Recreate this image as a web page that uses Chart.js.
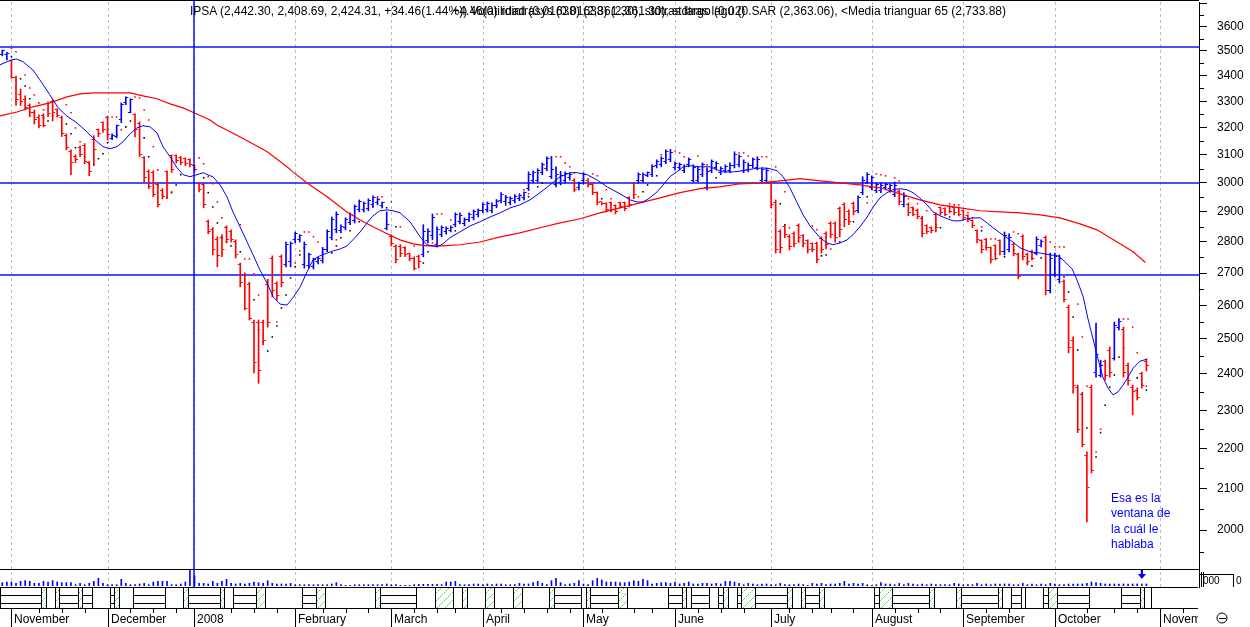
<!DOCTYPE html>
<html>
<head>
<meta charset="utf-8">
<script src="https://cdn.jsdelivr.net/npm/chart.js@4.4.1/dist/chart.umd.min.js"></script>
<style>
html,body{margin:0;padding:0;background:#fff;overflow:hidden}
#wrap{position:relative;width:1250px;height:627px;background:#fff}
#c{position:absolute;left:0;top:0}
.t{position:absolute;top:4px;font:12px "Liberation Sans",Arial,sans-serif;line-height:14px;color:#000;white-space:nowrap}
#note{position:absolute;left:1111px;top:491px;font:12px "Liberation Sans",Arial,sans-serif;line-height:15.3px;color:#0000ff;white-space:nowrap}
</style>
</head>
<body>
<div id="wrap">
<canvas id="c" width="1250" height="627"></canvas>
<div class="t" style="left:190px">IPSA (2,442.30, 2,408.69, 2,424.31, +34.46(1.44%)) Volatilidad (0.01638) (2,361.30), stdtras largo (0.02)</div>
<div class="t" style="right:244px">+4.46(0) rdintrasys (0.01638) (2,361.30), stdtras lagu (0.SAR (2,363.06), &lt;Media trianguar 65 (2,733.88)</div>
<div id="note">Esa es la<br>ventana de<br>la cuál le<br>hablaba</div>
</div>
<script>
const BLUE = '#0000ff', RED = '#ff0000';

// ---- axis / calendar data ----
const monthStartSlots = [2,23,42,64,85,105,127,147,168,190,210,230,253];
const monthLabels = ['November','December','2008','February','March','April','May','June','July','August','September','October','November'];
const weekTickSlots = [8,13,18,28,33,38,50,55,60,70,75,80,90,95,99,109,114,119,124,131,138,142,152,157,162,172,177,181,186,195,200,205,215,220,237,243,248,258];
const yTickValues = [2000,2100,2200,2300,2400,2500,2600,2700,2800,2900,3000,3100,3200,3300,3400,3500,3600];
const yMinorTickValues = [1950,2050,2150,2250,2350,2450,2550,2650,2750,2850,2950,3050,3150,3250,3350,3450,3550,3650];
const yTopTick = 3700;
const hLineValues = [3517, 3000, 2693];
const cursorSlot = 42;
const arrowSlot = 249;

// ---- IPSA daily bars ----
const openP = [3484,3484,3460,3395,3325,3306,3283,3259,3237,3244,
3290,3298,3267,3237,3170,3111,3093,3126,3133,3071,
3155,3192,3218,3237,3159,3166,3229,3294,3259,3248,
3214,3089,3039,3036,2993,2973,3039,3096,3096,3089,
3086,3082,3061,2997,2993,2867,2840,2807,2814,2847,
2833,2800,2726,2691,2663,2550,2550,2550,2663,2748,
2666,2752,2726,2736,2807,2807,2726,2723,2720,2736,
2739,2774,2814,2840,2837,2847,2863,2870,2907,2907,
2910,2924,2931,2921,2843,2817,2784,2784,2781,2761,
2748,2752,2758,2804,2820,2791,2824,2833,2837,2857,
2867,2860,2873,2880,2890,2904,2907,2904,2921,2938,
2934,2931,2938,2945,2948,2980,3007,3010,3036,3050,
3022,2993,3000,3007,3018,3010,2983,3007,3010,2993,
2966,2934,2928,2931,2921,2931,2931,2948,2997,3007,
3010,3025,3029,3061,3064,3075,3082,3053,3053,3043,
3064,3010,3010,3029,2983,3043,3053,3036,3043,3043,
3061,3064,3043,3046,3061,3053,3007,3007,2997,2931,
2833,2850,2817,2827,2853,2820,2804,2794,2794,2810,
2827,2860,2860,2910,2924,2900,2928,2904,2966,3003,
2983,2973,2973,2983,2980,2959,2969,2924,2924,2914,
2904,2877,2853,2847,2890,2914,2910,2917,2914,2914,
2904,2887,2870,2837,2804,2807,2781,2787,2804,2768,
2777,2791,2758,2817,2758,2768,2764,2787,2814,2647,
2695,2679,2673,2595,2497,2361,2342,2183,2361,2405,
2397,2434,2468,2445,2533,2527,2425,2363,2355,2400,
2435];
const highP = [3504,3494,3462,3399,3348,3321,3290,3267,3248,3252,
3298,3306,3271,3244,3177,3118,3100,3133,3141,3076,
3170,3195,3222,3244,3177,3210,3294,3317,3310,3252,
3222,3094,3046,3043,3000,2980,3043,3100,3100,3094,
3089,3086,3064,3000,3000,2873,2847,2817,2824,2853,
2840,2807,2732,2701,2669,2556,2556,2556,2679,2755,
2673,2758,2800,2800,2833,2824,2800,2764,2748,2752,
2781,2840,2883,2900,2857,2880,2897,2924,2941,2934,
2945,2955,2948,2934,2900,2824,2791,2791,2784,2764,
2752,2758,2857,2843,2893,2850,2853,2850,2853,2897,
2897,2880,2897,2907,2910,2931,2934,2931,2941,2966,
2955,2952,2959,2959,2969,3039,3043,3050,3071,3093,
3093,3057,3036,3039,3036,3015,3003,3036,3015,3000,
2969,2934,2931,2934,2924,2934,2934,2952,3000,3036,
3036,3039,3064,3082,3093,3118,3118,3075,3071,3064,
3089,3064,3057,3071,3053,3082,3075,3057,3064,3071,
3111,3100,3082,3071,3089,3093,3053,3053,3000,2941,
2840,2857,2824,2833,2860,2824,2807,2797,2800,2817,
2833,2867,2867,2917,2931,2907,2934,2955,3022,3036,
3025,3000,3000,3000,2997,3003,2976,2966,2931,2917,
2910,2883,2857,2850,2897,2917,2914,2921,2917,2917,
2907,2890,2873,2840,2807,2810,2784,2791,2807,2833,
2827,2797,2764,2824,2764,2774,2817,2807,2820,2764,
2764,2758,2679,2601,2506,2369,2347,2191,2369,2547,
2439,2439,2477,2550,2559,2535,2431,2369,2361,2405,
2442.30];
const lowP = [3480,3464,3390,3284,3284,3267,3241,3214,3199,3203,
3241,3225,3240,3167,3118,3029,3072,3093,3068,3025,
3064,3167,3182,3155,3155,3162,3219,3287,3256,3166,
3094,3004,2980,2952,2917,2945,2948,3037,3071,3064,
3061,3057,3039,2969,2914,2827,2758,2720,2752,2797,
2800,2748,2657,2586,2556,2403,2374,2483,2535,2626,
2617,2657,2720,2720,2797,2800,2716,2716,2713,2729,
2732,2768,2807,2830,2830,2840,2857,2863,2900,2900,
2904,2917,2924,2914,2840,2787,2732,2752,2752,2739,
2710,2716,2752,2797,2807,2784,2817,2830,2833,2850,
2860,2853,2867,2873,2883,2897,2900,2897,2914,2931,
2928,2924,2931,2938,2941,2973,3000,3003,3029,3043,
3015,2986,2993,3000,3010,2969,2976,3000,2986,2959,
2924,2924,2900,2900,2893,2914,2904,2917,2945,3000,
3003,3022,3022,3053,3057,3068,3075,3046,3046,3036,
3057,3003,3003,3022,2976,3036,3046,3029,3036,3036,
3053,3057,3036,3039,3053,3046,3000,3000,2914,2764,
2764,2814,2774,2784,2800,2784,2764,2768,2732,2764,
2777,2814,2800,2817,2850,2857,2890,2897,2959,2997,
2976,2966,2966,2976,2973,2952,2924,2917,2887,2887,
2877,2817,2827,2830,2833,2890,2887,2897,2890,2887,
2873,2867,2847,2797,2764,2774,2732,2742,2758,2758,
2768,2755,2682,2742,2726,2742,2758,2784,2632,2638,
2688,2669,2611,2460,2347,2241,2204,2019,2138,2391,
2391,2383,2391,2439,2527,2391,2369,2288,2328,2361,
2408.69];
const closeP = [3500,3488,3395,3306,3298,3275,3259,3229,3207,3207,
3252,3259,3244,3177,3126,3071,3082,3100,3075,3039,
3118,3177,3192,3173,3170,3207,3287,3313,3306,3192,
3100,3018,2986,2959,2924,2952,3003,3046,3078,3071,
3068,3064,3046,2976,2924,2833,2774,2755,2774,2807,
2807,2758,2669,2592,2562,2431,2411,2497,2550,2647,
2629,2669,2791,2794,2827,2820,2791,2758,2742,2748,
2774,2833,2873,2890,2850,2873,2890,2917,2934,2928,
2938,2948,2941,2931,2857,2794,2742,2761,2758,2745,
2716,2736,2833,2833,2880,2840,2847,2843,2847,2890,
2887,2873,2890,2900,2904,2924,2928,2921,2934,2959,
2948,2945,2952,2955,2966,3029,3036,3043,3064,3086,
3046,3029,3025,3032,3029,2976,2997,3029,2993,2966,
2931,2928,2907,2907,2900,2917,2910,2924,2959,3029,
3029,3036,3057,3075,3086,3111,3107,3068,3064,3057,
3082,3053,3046,3064,3039,3075,3068,3050,3057,3061,
3100,3093,3071,3061,3082,3082,3046,3043,2924,2774,
2781,2824,2784,2794,2814,2794,2774,2774,2742,2774,
2791,2824,2814,2840,2873,2867,2900,2948,3010,3029,
3018,2993,2990,2993,2990,2990,2934,2952,2897,2893,
2883,2827,2833,2837,2847,2897,2893,2900,2897,2893,
2880,2873,2853,2807,2774,2781,2742,2748,2768,2820,
2814,2761,2688,2752,2736,2748,2807,2800,2647,2748,
2752,2748,2617,2474,2369,2248,2209,2101,2145,2454,
2425,2397,2405,2541,2553,2403,2383,2350,2334,2369,
2424.31];
const volume = [10,12,12,8,14,16,14,8,8,14,
12,16,12,10,10,10,4,8,4,8,
14,23,8,4,4,4,20,8,4,4,
6,8,4,12,14,14,14,4,4,6,
12,47,30,8,8,6,14,8,14,20,
8,6,8,6,8,12,10,8,16,8,
6,6,6,8,4,4,4,4,4,4,
4,4,6,10,4,2,2,4,4,4,
4,4,4,4,6,4,4,2,2,2,
4,5,5,5,5,5,4,12,12,14,
4,4,4,6,6,4,6,4,6,6,
4,4,4,8,6,6,10,14,8,4,
16,23,10,4,6,8,16,6,4,16,
23,18,12,12,12,10,10,12,16,14,
20,16,6,8,10,10,8,12,6,8,
12,6,6,8,8,6,8,6,14,14,
12,8,4,8,6,4,6,6,4,4,
8,4,4,4,6,4,2,8,6,8,
4,6,6,8,14,6,8,6,8,4,
2,4,10,6,6,4,8,4,8,6,
4,6,4,6,4,4,4,4,8,6,
4,4,4,8,4,6,4,6,6,6,
6,4,4,8,4,6,4,6,4,8,
6,4,4,6,6,6,6,8,12,10,
8,6,6,6,6,6,6,6,6,6,
6];

// ---- moving averages ----
const maShortSlots = [-0.5,2.06,3.15,4.5,6.7,8.2,10.4,12.2,14.1,16.3,18.5,20.7,22,23.5,25.1,26.4,27.9,29.4,30.75,32.3,33.8,35.1,36.65,38.2,39.5,41,42.55,43.9,45.4,46,47.6,49.1,50.4,51.95,53.5,54.8,56.3,57.85,59.2,60.7,62.2,63.5,65.1,66.6,67.9,69.4,71,72.3,73.8,75.3,76.6,78.2,79.7,81,82.5,84.1,85.4,86.9,89.1,91.3,92.8,95,96.3,97.8,100,102.2,104.4,106.6,108.8,111,113.1,115.3,117.5,119.7,121.9,124.1,125.6,127.8,130,132.2,135,137.2,138.7,140,141.5,143.1,144.4,145.9,147.4,148.8,150.3,152.5,154.7,156.2,157.5,159.7,161.9,164.1,166.2,167.8,169.3,170.6,172.1,173.7,175,176.5,178.7,180.2,181.5,183.1,184.6,185.9,187.4,189,190.3,191.8,193.3,194.6,196.2,197.7,199,200.5,202.1,203.4,204.9,206.5,207.8,209.3,210.8,212.1,213.7,215.2,216.5,218,220.2,222.4,224.6,226.8,229,230.7,232.2,233.8,235.1,236.2,237.3,238.4,239.5,240.5,241.6,242.7,243.8,244.9,246,247.1,248.6,250.2];
const maShortValues = [3444,3464,3467,3457,3423,3384,3325,3275,3244,3218,3184,3148,3130,3122,3130,3148,3177,3199,3207,3203,3181,3130,3093,3053,3029,3022,3029,3036,3025,3022,2993,2952,2900,2850,2800,2758,2710,2669,2626,2604,2601,2623,2657,2704,2742,2755,2764,2771,2777,2787,2807,2833,2863,2887,2904,2907,2904,2897,2867,2817,2791,2784,2794,2814,2833,2853,2867,2883,2897,2914,2924,2941,2966,2993,3022,3036,3036,3029,3010,2986,2962,2941,2934,2934,2948,2969,2993,3022,3039,3057,3061,3057,3057,3046,3039,3039,3043,3050,3053,3050,3043,3022,2983,2931,2890,2853,2814,2797,2791,2797,2807,2824,2850,2883,2917,2948,2966,2976,2980,2976,2966,2948,2924,2900,2887,2877,2870,2870,2877,2880,2880,2863,2847,2830,2807,2781,2768,2764,2758,2755,2736,2713,2669,2626,2556,2497,2439,2391,2361,2342,2350,2369,2391,2416,2436,2442];
const maLongSlots = [-0.5,3.2,6.7,10.4,14.1,17,19.8,23.5,27.9,30.75,33.8,36.65,39.5,41.9,45.4,46.9,51.9,57.9,62.2,63.5,66.6,71,75.3,78.2,81,84.1,86.9,89.8,92.8,96.3,100,104.4,108.8,113.1,117.5,121.9,126.3,130.6,135,139.4,143.7,148.1,152.5,156.8,161.2,165.6,170,174.3,178.7,183.1,187.4,191.8,196.2,200.5,204.9,209.3,213.7,218,222.4,226.8,231.1,235.5,239.2,243.6,247.1,249.8];
const maLongValues = [3244,3259,3279,3294,3317,3329,3333,3333,3333,3321,3310,3290,3275,3256,3229,3210,3166,3111,3057,3039,3000,2952,2900,2873,2850,2827,2807,2794,2787,2787,2791,2800,2817,2830,2847,2863,2877,2897,2914,2931,2948,2966,2980,2986,2997,3000,3007,3015,3007,3000,2993,2983,2962,2941,2924,2914,2904,2900,2897,2890,2880,2860,2840,2800,2768,2733.88];

// ---- dotted indicator points ----
const sarRedSlots = [2,3,5,6,7,8,9,14,15,16,17,24,25,26,29,30,31,32,33,34,37,43,44,45,46,47,48,49,52,53,54,55,56,58,60,64,65,66,67,68,69,70,73,82,83,85,87,90,94,95,96,98,100,102,104,106,108,110,113,114,115,116,117,118,119,120,121,122,123,124,125,127,129,130,132,133,135,139,142,144,146,147,148,149,152,154,161,162,163,166,167,169,171,172,174,177,178,180,181,182,183,186,189,191,192,193,195,196,198,200,202,207,208,209,211,212,214,215,216,217,221,222,225,229,230,231,232,235,236,237,239,240,244,245,246,247,248,250];
const sarRedValues = [3511,3497,3403,3352,3325,3294,3267,3287,3256,3199,3148,3240,3240,3192,3317,3313,3267,3229,3130,3046,2969,3089,3068,3022,2997,2934,2880,2850,2857,2745,2745,2698,2632,2679,2550,2732,2771,2833,2833,2817,2800,2781,2807,2952,2952,2934,2850,2787,2797,2893,2893,2873,2867,2893,2907,2931,2941,2955,2962,2976,2962,3025,3036,3053,3071,3093,3093,3093,3071,3057,3036,3015,3032,3025,2976,2945,2931,2952,3057,3100,3118,3114,3107,3093,3096,3064,3107,3107,3096,3093,3093,3057,2969,2847,2800,2853,2840,2791,2777,2820,2857,2914,2931,3032,3029,3025,3018,3007,2945,2928,2904,2928,2924,2924,2897,2880,2850,2810,2810,2810,2833,2827,2748,2800,2784,2784,2784,2604,2506,2366,2191,2250,2559,2559,2559,2535,2460,2366];
const sarBlackSlots = [2,4,5,6,7,9,10,11,14,15,16,18,19,20,21,22,23,24,25,27,28,31,32,34,35,36,37,38,39,44,45,46,47,48,49,50,52,54,55,56,57,58,59,60,61,62,63,64,65,66,69,70,72,73,74,76,78,81,84,86,88,92,93,97,99,101,104,106,108,110,111,113,115,117,118,121,122,127,131,133,140,141,143,152,156,170,171,175,177,179,180,183,186,189,194,197,199,201,204,205,207,214,215,217,219,221,224,225,227,230,232,233,234,235,236,237,239,240,241,242,243,244,245,248,249,250];
const sarBlackValues = [3477,3388,3360,3310,3256,3237,3225,3244,3214,3177,3126,3093,3068,3064,3086,3104,3144,3166,3173,3203,3225,3162,3093,2993,2959,2948,2966,2993,3029,3018,2966,2917,2863,2814,2800,2787,2768,2669,2617,2527,2491,2465,2506,2538,2592,2632,2685,2720,2758,2781,2739,2761,2764,2787,2814,2837,2867,2917,2914,2850,2781,2732,2768,2827,2837,2870,2893,2904,2921,2924,2931,2945,2952,2986,3000,2997,3039,2997,2945,2928,2969,2993,3025,3022,3018,2928,2857,2787,2777,2755,2758,2800,2867,2952,2969,2952,2910,2883,2857,2847,2883,2837,2784,2761,2752,2774,2732,2723,2748,2695,2688,2641,2565,2468,2347,2253,2178,2241,2314,2363,2397,2448,2474,2389,2372,2355];

// ---- calendar strip under the volume panel (slot boundaries) ----
const stripStart = [0,9,10,12,13,17,18,20,24,25,26,29,36,40,41,48,49,51,56,58,66,69,71,82,83,91,95,99,101,102,106,108,112,114,120,121,127,128,129,135,137,146,149,150,151,155,157,158,159,161,162,165,172,173,175,176,179,180,191,192,195,203,204,209,210,218,219,221,223,224,228,229,231,238,245,249,250];
const stripEnd = [9,10,12,13,17,18,20,24,25,26,29,36,40,41,48,49,51,56,58,66,69,71,82,83,91,95,99,101,102,106,108,112,114,120,121,127,128,129,135,137,146,149,150,151,155,157,158,159,161,162,165,172,173,175,176,179,180,191,192,195,203,204,209,210,218,219,221,223,224,228,229,231,238,245,249,250,251.5];
const stripType = ['L','H','E','H','L','H','L','E','L','H','E','L','E','H','L','H','E','L','H','E','L','H','E','H','L','E','H','E','H','E','H','E','H','E','H','L','E','H','L','H','E','L','H','E','L','E','L','H','E','L','H','L','H','E','H','L','H','E','L','H','L','H','E','H','L','H','E','L','E','E','L','H','L','E','L','H','E'];

// ---- tick images for open (left) and close (right) ----
function tickImg(color, left) {
  const c = document.createElement('canvas');
  c.width = 7; c.height = 1;
  const g = c.getContext('2d');
  g.fillStyle = color;
  g.fillRect(left ? 1 : 4, 0, 2, 1);
  return c;
}
const imgs = { lb: tickImg(BLUE, true), lr: tickImg(RED, true), rb: tickImg(BLUE, false), rr: tickImg(RED, false) };
const isUp = i => closeP[i] >= openP[i];

const FONT = '"Liberation Sans", Arial, sans-serif';
Chart.defaults.font.family = FONT;

const decor = {
  id: 'decor',
  beforeDatasetsDraw(chart) {
    const {ctx, chartArea: a, scales: {x, y}} = chart;
    ctx.save();
    ctx.fillStyle = '#c0c0c0';
    for (let i = 0; i < monthStartSlots.length; i++) {
      const gx = Math.round(x.getPixelForValue(monthStartSlots[i]));
      if (gx > a.right) continue;
      for (let yy = Math.ceil(a.top); yy < a.bottom; yy += 6) ctx.fillRect(gx, yy, 1, 3);
    }
    ctx.fillStyle = BLUE;
    hLineValues.forEach(v => {
      const py = Math.round(y.getPixelForValue(v));
      ctx.fillRect(a.left, py - 0.7, a.right - a.left, 1.4);
    });
    ctx.restore();
  },
  afterDraw(chart) {
    const {ctx, chartArea: a, scales: {x, y}} = chart;
    const px = v => x.getPixelForValue(v);
    ctx.save();
    ctx.fillStyle = '#000';
    ctx.fillRect(0, 0, a.right, 1);
    yMinorTickValues.forEach(v => ctx.fillRect(a.right, Math.round(y.getPixelForValue(v)), 5, 1));
    ctx.fillRect(a.right, Math.round(y.getPixelForValue(yTopTick)), 8, 1);
    const vTop = a.bottom - 17;
    ctx.fillRect(0, vTop, a.right, 1);
    ctx.fillStyle = BLUE;
    ctx.fillRect(Math.round(px(cursorSlot)) - 0.7, 0, 1.4, 588);
    const ax = px(arrowSlot);
    ctx.fillRect(ax - 1, vTop + 1, 2.2, 5);
    ctx.beginPath(); ctx.moveTo(ax - 4, vTop + 5); ctx.lineTo(ax + 4.2, vTop + 5); ctx.lineTo(ax + 0.1, vTop + 10); ctx.closePath(); ctx.fill();
    const sT = 587, sB = 608, r1 = 595, r2 = 603;
    ctx.fillStyle = '#000';
    ctx.fillRect(0, sT, 1198, 1);
    ctx.fillRect(0, sB, 1198, 1);
    stripStart.forEach((k0, i) => {
      const x0 = Math.round(px(k0 - 0.5)), x1 = Math.round(px(stripEnd[i] - 0.5));
      ctx.fillStyle = '#000';
      ctx.fillRect(x0, sT, 1, sB - sT + 1);
      ctx.fillRect(x1, sT, 1, sB - sT + 1);
      if (stripType[i] === 'L') {
        ctx.fillRect(x0, r1, x1 - x0, 1);
        ctx.fillRect(x0, r2, x1 - x0, 1);
      } else if (stripType[i] === 'H') {
        ctx.save();
        ctx.beginPath(); ctx.rect(x0 + 1, sT + 1, x1 - x0 - 1, sB - sT - 1); ctx.clip();
        ctx.strokeStyle = '#33cc33'; ctx.lineWidth = 1; ctx.setLineDash([2, 1]);
        for (let s = x0 - 30; s < x1 + 10; s += 8) {
          ctx.beginPath(); ctx.moveTo(s, sB); ctx.lineTo(s + (sB - sT), sT); ctx.stroke();
        }
        ctx.restore();
      }
    });
    ctx.fillStyle = '#000';
    weekTickSlots.forEach(s => ctx.fillRect(Math.round(px(s)), sB + 1, 1, 4));
    ctx.save();
    ctx.beginPath(); ctx.rect(0, sB + 1, 1198, 30); ctx.clip();
    ctx.font = '12px ' + FONT; ctx.textBaseline = 'middle'; ctx.textAlign = 'left';
    monthStartSlots.forEach((s, i) => {
      const tx = Math.round(px(s));
      ctx.fillRect(tx, sB + 1, 1, 19);
      ctx.fillText(monthLabels[i], tx + 3, 620);
    });
    ctx.restore();
    ctx.fillStyle = '#000';
    ctx.fillRect(a.right, vTop, 1, 19);
    ctx.fillRect(a.right + 2, vTop + 3, 1, 15);
    ctx.fillRect(a.right + 4, vTop + 3, 1, 15);
    ctx.fillRect(a.right, vTop + 5, 34, 1);
    ctx.fillRect(a.right + 34, vTop + 5, 1, 13);
    ctx.font = '10px ' + FONT; ctx.textBaseline = 'middle';
    ctx.fillText('000', a.right + 4, vTop + 12);
    ctx.fillText('0', a.right + 37, vTop + 12);
    ctx.strokeStyle = '#000'; ctx.lineWidth = 1;
    ctx.beginPath(); ctx.arc(1222, 618, 5, 0, Math.PI * 2); ctx.stroke();
    ctx.fillRect(1219, 618, 7, 1);
    ctx.restore();
  }
};

new Chart(document.getElementById('c'), {
  type: 'bar',
  data: {
    datasets: [
      { type: 'line', label: 'Media triangular corta', data: maShortSlots.map((s, i) => ({x: s, y: maShortValues[i]})),
        borderColor: BLUE, borderWidth: 1, pointRadius: 0, tension: 0, yAxisID: 'y', order: 0 },
      { type: 'line', label: 'Media trianguar 65', data: maLongSlots.map((s, i) => ({x: s, y: maLongValues[i]})),
        borderColor: RED, borderWidth: 1.2, pointRadius: 0, tension: 0, yAxisID: 'y', order: 1 },
      { type: 'scatter', label: 'Apertura', data: openP.map((v, i) => ({x: i, y: v})),
        pointStyle: c => isUp(c.dataIndex) ? imgs.lb : imgs.lr, pointRadius: 2, pointBorderWidth: 0, yAxisID: 'y', order: 2 },
      { type: 'scatter', label: 'Cierre', data: closeP.map((v, i) => ({x: i, y: v})),
        pointStyle: c => isUp(c.dataIndex) ? imgs.rb : imgs.rr, pointRadius: 2, pointBorderWidth: 0, yAxisID: 'y', order: 3 },
      { type: 'bar', label: 'IPSA', data: highP.map((h, i) => ({x: i, y: [lowP[i], h]})),
        backgroundColor: c => isUp(c.dataIndex) ? BLUE : RED, borderWidth: 0, barThickness: 1, grouped: false, yAxisID: 'y', order: 4 },
      { type: 'scatter', label: 'SAR rojo', data: sarRedSlots.map((s, i) => ({x: s, y: sarRedValues[i]})),
        pointStyle: 'rect', pointRadius: 1.1, backgroundColor: RED, borderWidth: 0, yAxisID: 'y', order: 5 },
      { type: 'scatter', label: 'SAR negro', data: sarBlackSlots.map((s, i) => ({x: s, y: sarBlackValues[i]})),
        pointStyle: 'rect', pointRadius: 1.1, backgroundColor: '#000', borderWidth: 0, yAxisID: 'y', order: 6 },
      { type: 'bar', label: 'Volumen', data: volume.map((v, i) => ({x: i, y: v})),
        backgroundColor: BLUE, borderWidth: 0, barThickness: 1, grouped: false, yAxisID: 'yv', order: 7 }
    ]
  },
  options: {
    responsive: false,
    animation: false,
    devicePixelRatio: 1,
    layout: { autoPadding: false, padding: { top: 2, left: 0, right: 0, bottom: 41 } },
    plugins: { legend: { display: false }, tooltip: { enabled: false }, title: { display: false } },
    events: [],
    scales: {
      x: {
        type: 'linear', min: -0.5, max: 261.5, offset: false, display: false,
        grid: { display: false, offset: false }
      },
      y: {
        type: 'logarithmic', position: 'right', min: 1873.4, max: 3706,
        afterBuildTicks: s => { s.ticks = yTickValues.map(v => ({value: v})); },
        afterFit: s => { s.width = 51; s.paddingTop = 0; s.paddingBottom = 0; },
        grid: { drawOnChartArea: false, drawTicks: true, tickLength: 8, color: '#000', lineWidth: 1 },
        border: { display: true, color: '#000', width: 1 },
        ticks: { autoSkip: false, padding: 10, color: '#000', font: { size: 12, family: FONT }, callback: v => String(v) }
      },
      yv: {
        type: 'linear', display: false, min: 0, max: 1752
      }
    }
  },
  plugins: [decor]
});
</script>
</body>
</html>
